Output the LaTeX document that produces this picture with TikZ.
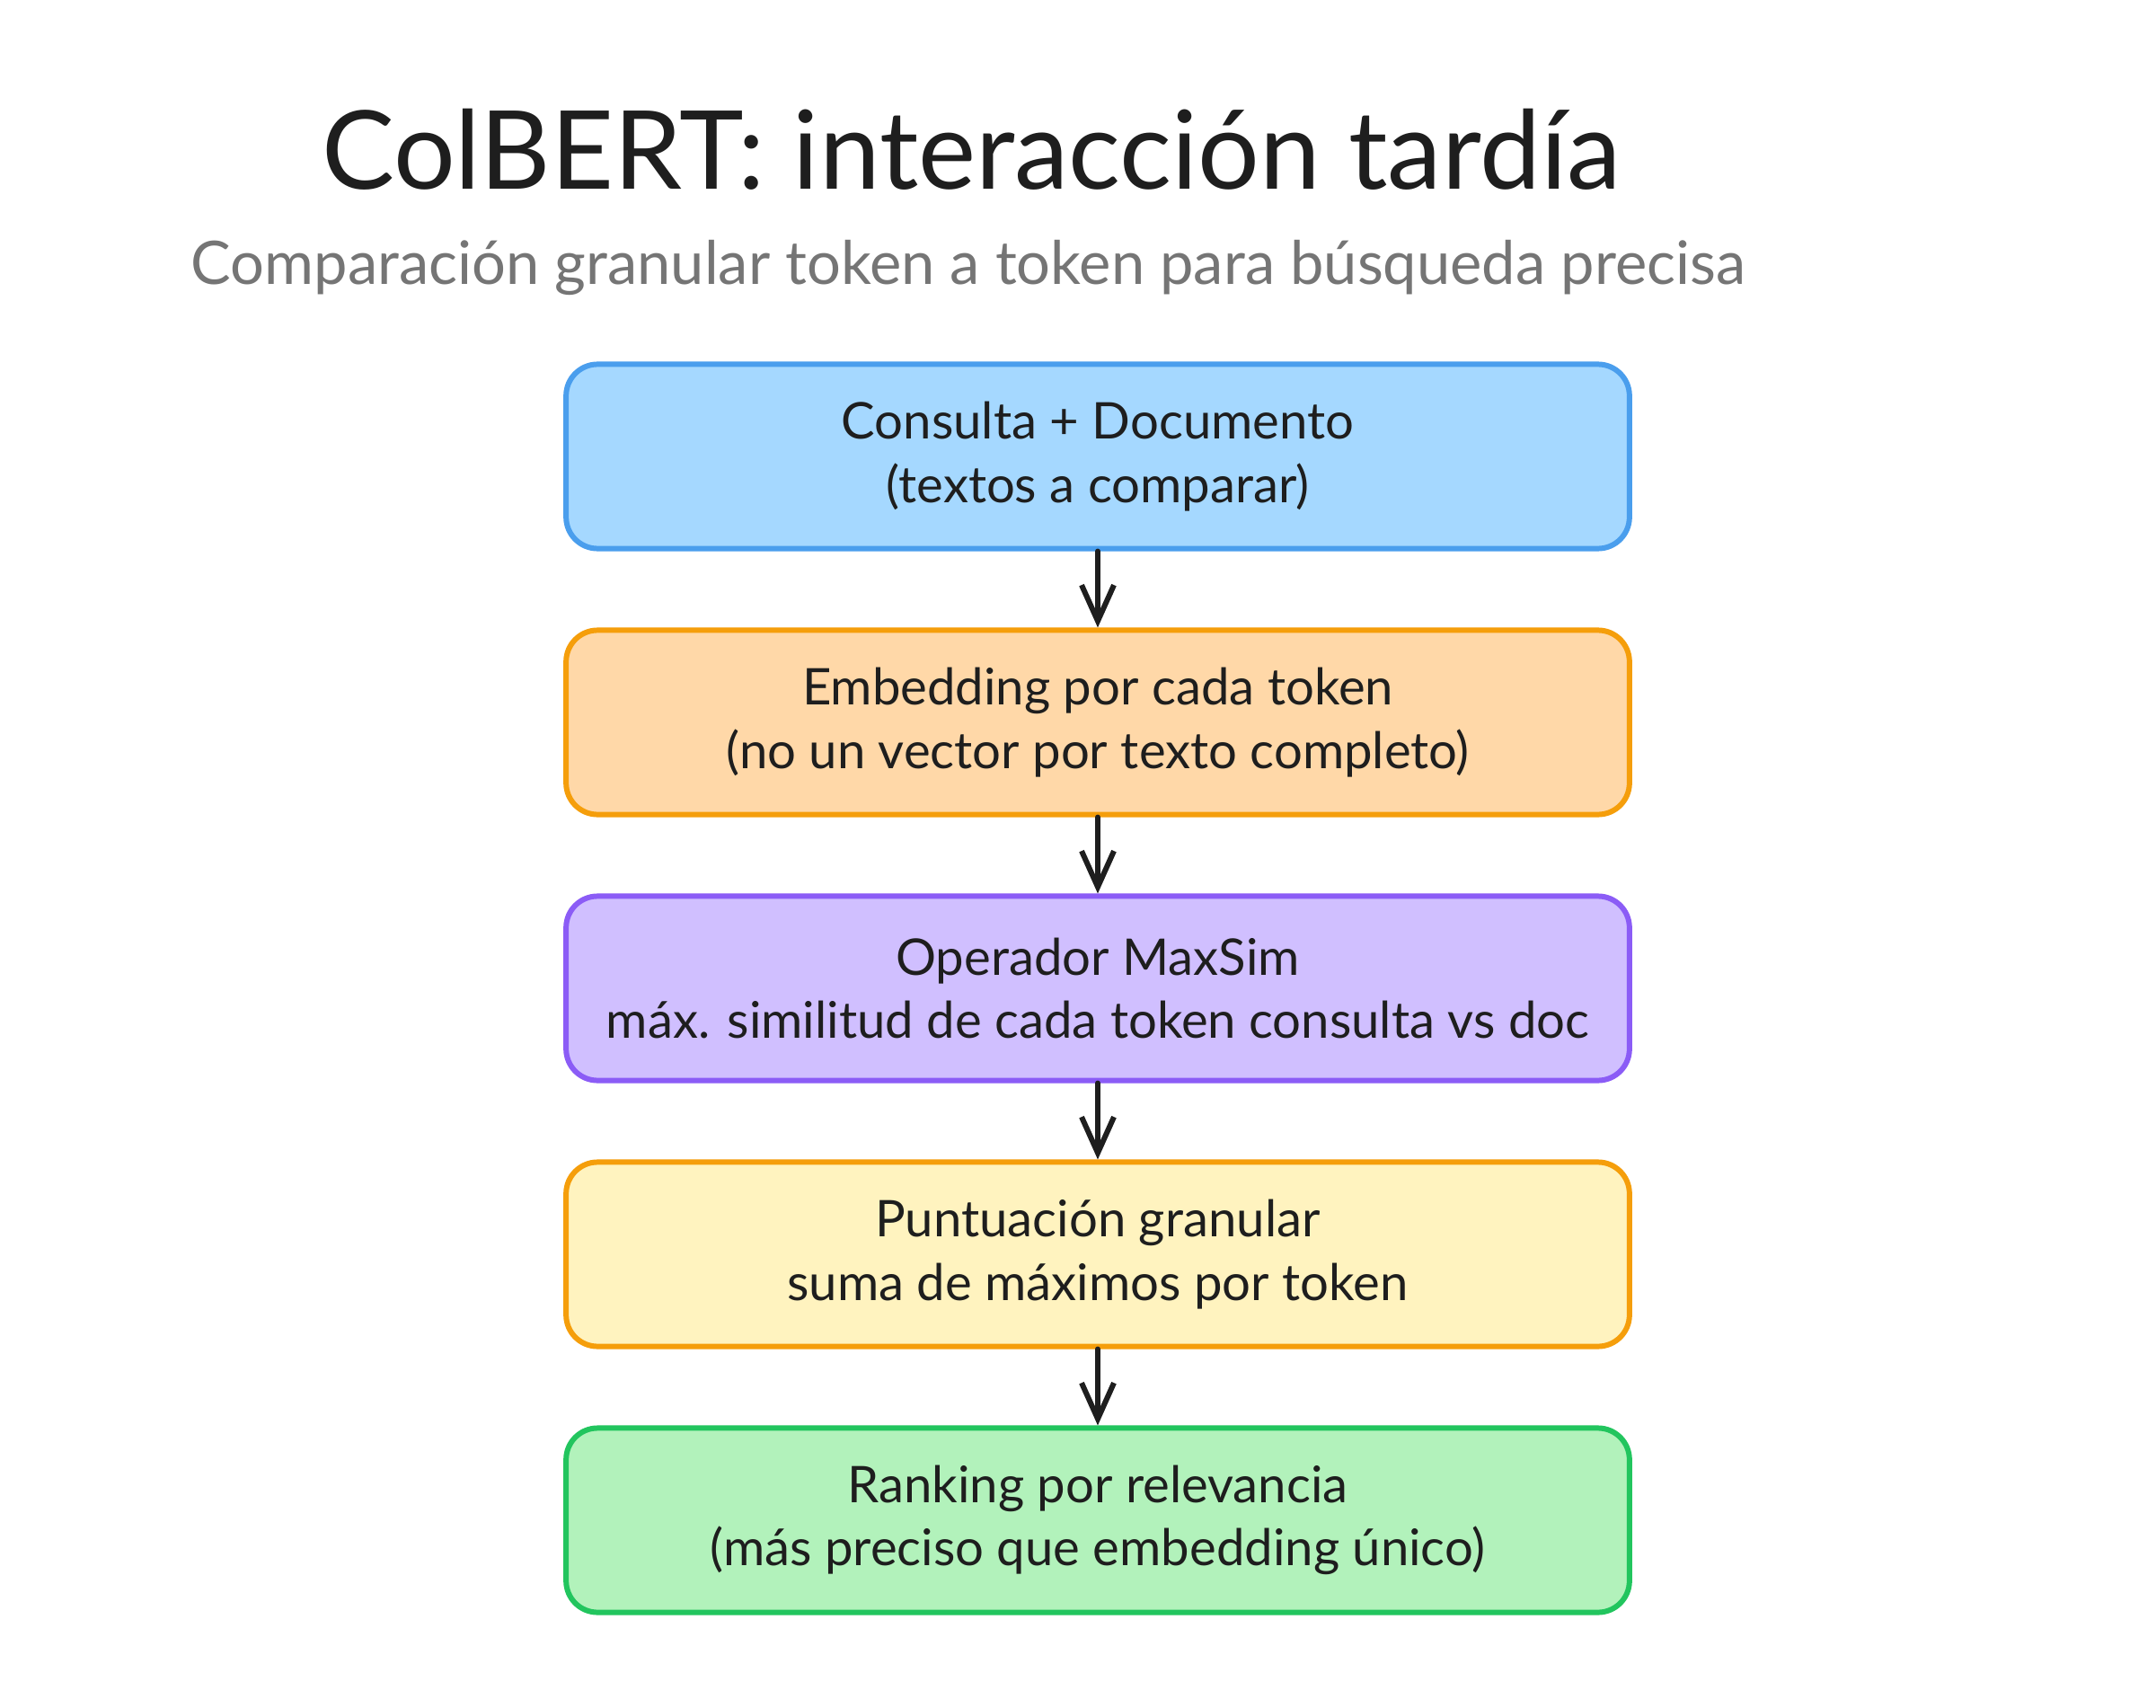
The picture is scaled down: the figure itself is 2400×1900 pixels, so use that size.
\documentclass[tikz,border=0pt]{standalone}
\usepackage{fontspec}
\setmainfont{Lato}
\usetikzlibrary{arrows.meta}
\definecolor{ink}{HTML}{1E1E1E}
\definecolor{subgray}{HTML}{757575}
\definecolor{blueS}{HTML}{4A9EED}
\definecolor{blueF}{HTML}{A5D8FF}
\definecolor{orangeS}{HTML}{F59E0B}
\definecolor{orangeF}{HTML}{FFD8A8}
\definecolor{purpleS}{HTML}{8B5CF6}
\definecolor{purpleF}{HTML}{D0BFFF}
\definecolor{yellowF}{HTML}{FFF3BF}
\definecolor{greenS}{HTML}{22C55E}
\definecolor{greenF}{HTML}{B2F2BB}
\tikzset{
  stepbox/.style={draw, line width=1.7pt, rounded corners=0.35cm,
    minimum width=11.83cm, minimum height=2.05cm, align=center,
    text=ink, font=\fontsize{16}{20}\selectfont, inner sep=0pt},
  flow/.style={draw=ink, line width=1.7pt, line cap=round,
    -{Straight Barb[length=0.4cm, width=0.36cm, line width=1.7pt]}},
  titlestyle/.style={text=ink, font=\fontsize{34.5}{40}\selectfont, anchor=base, inner sep=0pt},
  substyle/.style={text=subgray, font=\fontsize{19}{23}\selectfont, anchor=base, inner sep=0pt}
}
\begin{document}
\begin{tikzpicture}[x=0.01cm, y=-0.01cm]
\useasboundingbox[fill=white] (0,0) rectangle (2400,1900);
\node[titlestyle] (title) at (1081,210) {ColBERT: interacción tardía};
\node[substyle] (sub) at (1078,316) {Comparación granular token a token para búsqueda precisa};
\node[stepbox, draw=blueS, fill=blueF] (b1) at (1222,508) {Consulta + Documento\\(textos a comparar)};
\node[stepbox, draw=orangeS, fill=orangeF] (b2) at (1222,804) {Embedding por cada token\\(no un vector por texto completo)};
\node[stepbox, draw=purpleS, fill=purpleF] (b3) at (1222,1100) {Operador MaxSim\\máx. similitud de cada token consulta vs doc};
\node[stepbox, draw=orangeS, fill=yellowF] (b4) at (1222,1396) {Puntuación granular\\suma de máximos por token};
\node[stepbox, draw=greenS, fill=greenF] (b5) at (1222,1692) {Ranking por relevancia\\(más preciso que embedding único)};
\draw[flow] (b1.south) -- (b2.north);
\draw[flow] (b2.south) -- (b3.north);
\draw[flow] (b3.south) -- (b4.north);
\draw[flow] (b4.south) -- (b5.north);
\end{tikzpicture}
\end{document}
